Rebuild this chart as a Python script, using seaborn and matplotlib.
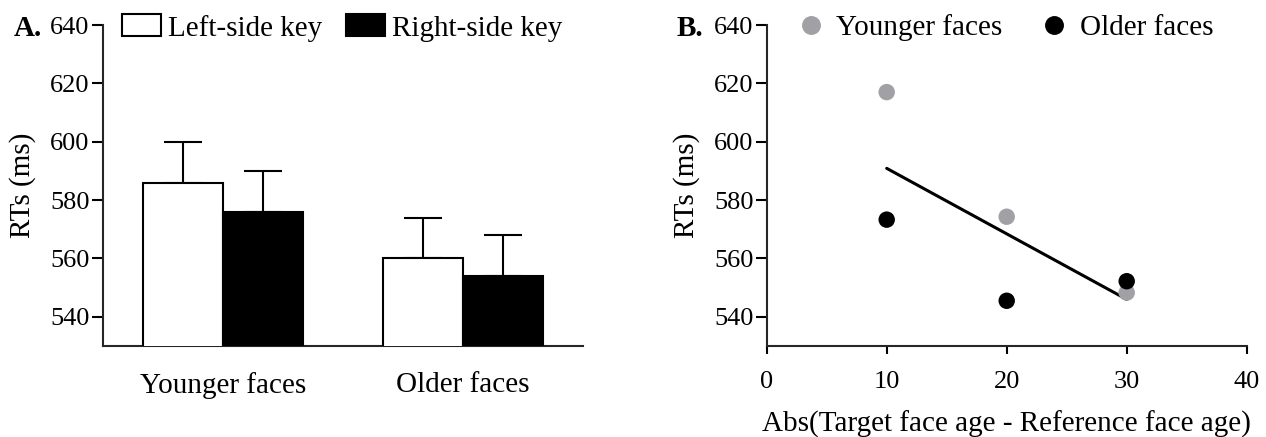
import matplotlib
matplotlib.use("Agg")
import matplotlib.pyplot as plt
import seaborn as sns
import pandas as pd

# Panel A: mean RTs per face group and response key
faces = ["Younger faces", "Younger faces", "Older faces", "Older faces"]
keys = ["Left-side key", "Right-side key", "Left-side key", "Right-side key"]
rt_means = [586, 576, 560, 554]
rt_errors = [14, 14, 14, 14]

# Panel B: RTs by absolute age difference
age_diff = [10, 20, 30, 10, 20, 30]
face_group = ["Younger faces"] * 3 + ["Older faces"] * 3
rt_points = [617, 574.3, 548.3, 573.3, 545.5, 552.2]

sns.set_theme(style="ticks")
plt.rcParams["font.family"] = ["Liberation Serif", "DejaVu Serif"]
plt.rcParams["axes.linewidth"] = 1.5
plt.rcParams["text.color"] = "black"
plt.rcParams["axes.labelcolor"] = "black"
plt.rcParams["xtick.color"] = "black"
plt.rcParams["ytick.color"] = "black"

W, H = 1266, 437
fig = plt.figure(figsize=(W / 100, H / 100), dpi=100)
ax_a = fig.add_axes([102.7 / W, 1 - 346 / H, 480.3 / W, 321 / H])
ax_b = fig.add_axes([766.7 / W, 1 - 346 / H, 480 / W, 321 / H])

TICK_FS = 19
TEXT_FS = 21

# ---- Panel A ----
df_a = pd.DataFrame({"face": faces, "key": keys, "rt": rt_means, "err": rt_errors})
sns.barplot(data=df_a, x="face", y="rt", hue="key", ax=ax_a,
            palette={"Left-side key": "white", "Right-side key": "black"},
            edgecolor="black", linewidth=1.5, width=0.667, errorbar=None,
            order=["Younger faces", "Older faces"],
            hue_order=["Left-side key", "Right-side key"], zorder=3)

for container, key in zip(ax_a.containers, ["Left-side key", "Right-side key"]):
    errs = df_a[df_a["key"] == key].set_index("face").loc[["Younger faces", "Older faces"], "err"]
    for bar, e in zip(container, errs):
        ax_a.errorbar(bar.get_x() + bar.get_width() / 2, bar.get_height(),
                      yerr=[[0], [e]], color="black", elinewidth=1.5,
                      capsize=14, capthick=1.5, zorder=2)

ax_a.set_ylim(530, 640)
ax_a.set_xlim(-0.5, 1.5)
ax_a.set_yticks([540, 560, 580, 600, 620, 640])
ax_a.set_xlabel("")
ax_a.set_ylabel("RTs (ms)", fontsize=TEXT_FS, labelpad=10)
ax_a.tick_params(axis="y", labelsize=TICK_FS, length=8, width=1.5, pad=1.5)
ax_a.tick_params(axis="x", labelsize=TEXT_FS, length=0, pad=19)
sns.despine(ax=ax_a)
ax_a.legend(ncol=2, frameon=False, fontsize=TEXT_FS, loc="center left",
            bbox_to_anchor=(121.8 / W, 1 - 28 / H), bbox_transform=fig.transFigure,
            borderpad=0, borderaxespad=0, handlelength=1.34, handleheight=0.78,
            handletextpad=0.25, columnspacing=0.8)

# ---- Panel B ----
df_b = pd.DataFrame({"diff": age_diff, "group": face_group, "rt": rt_points})
sns.regplot(data=df_b, x="diff", y="rt", ax=ax_b, scatter=False, ci=None,
            line_kws={"color": "black", "lw": 2.2, "zorder": 2})
sns.scatterplot(data=df_b, x="diff", y="rt", hue="group", ax=ax_b,
                palette={"Younger faces": "#a0a0a5", "Older faces": "black"},
                s=140, linewidth=0, zorder=3)

ax_b.set_xlim(0, 40)
ax_b.set_ylim(530, 640)
ax_b.set_xticks([0, 10, 20, 30, 40])
ax_b.set_yticks([540, 560, 580, 600, 620, 640])
ax_b.set_xlabel("Abs(Target face age - Reference face age)", fontsize=TEXT_FS, labelpad=13)
ax_b.set_ylabel("RTs (ms)", fontsize=TEXT_FS, labelpad=10)
ax_b.tick_params(axis="y", labelsize=TICK_FS, length=8, width=1.5, pad=1.5)
ax_b.tick_params(axis="x", labelsize=TICK_FS, length=6, width=1.5, pad=12)
sns.despine(ax=ax_b)
ax_b.legend(ncol=2, frameon=False, fontsize=TEXT_FS, loc="center left",
            bbox_to_anchor=(796 / W, 1 - 28 / H), bbox_transform=fig.transFigure,
            borderpad=0, borderaxespad=0, handlelength=1.0, markerscale=1.15,
            handletextpad=0.36, columnspacing=1.3)

fig.text(13.7 / W, 1 - 28 / H, "A.", fontsize=TEXT_FS, fontweight="bold", va="center")
fig.text(677 / W, 1 - 28 / H, "B.", fontsize=TEXT_FS, fontweight="bold", va="center")

fig.savefig("out.png", dpi=100)
